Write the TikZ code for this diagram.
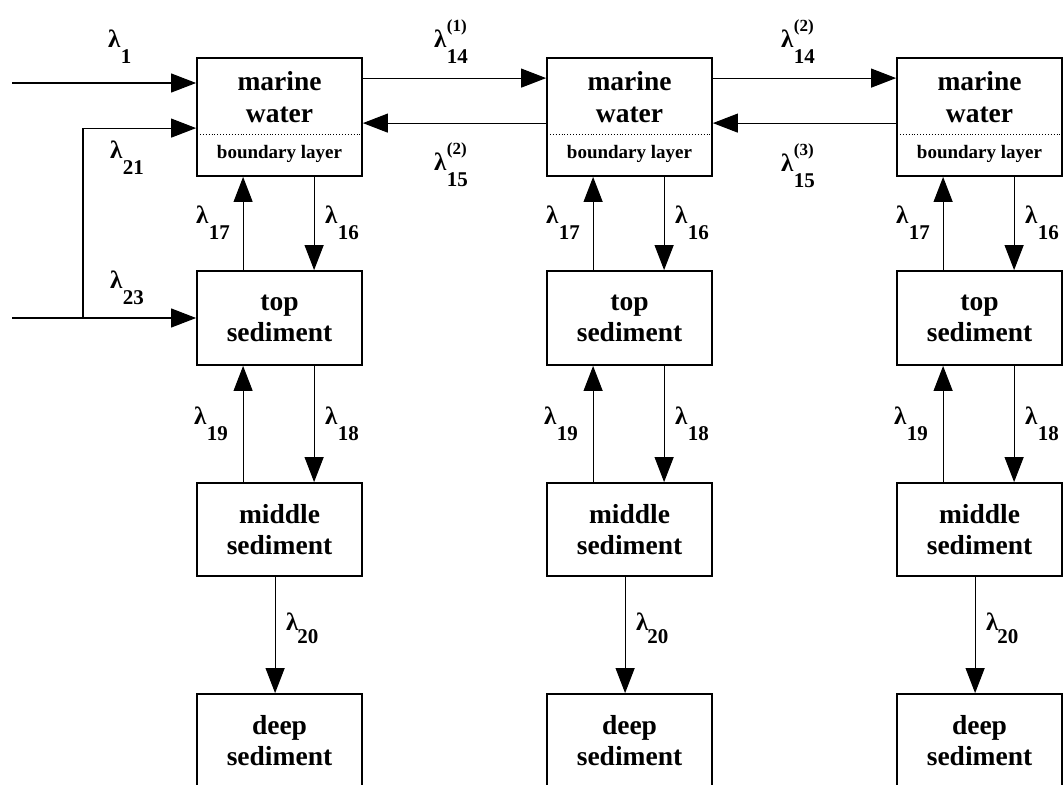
\documentclass[tikz,border=0pt]{standalone}
\usepackage{fontspec}
\setmainfont{Liberation Serif}
\usetikzlibrary{arrows.meta}
\newcommand{\lamg}{{\fontsize{25}{25}\selectfont λ}}
\newcommand{\lsub}[1]{\lamg\kern0.5pt\raisebox{-16pt}{#1}}
\newcommand{\lsubsup}[2]{\lamg\kern0.5pt\rlap{\raisebox{16pt}{\fontsize{17}{17}\selectfont(#2)}}\raisebox{-16pt}{#1}}
\newcommand{\ltight}[1]{\lamg\kern-1pt\raisebox{-13pt}{#1}}
\tikzset{
  box/.style={draw, line width=1.8pt, minimum width=165pt, minimum height=#1, inner sep=0pt, align=center, font=\bfseries\fontsize{27.5}{31}\selectfont},
  flow/.style={line width=1.1pt, -{Triangle[length=25pt,width=19pt]}},
  lab/.style={inner sep=0pt, anchor=base west, font=\bfseries\fontsize{21}{21}\selectfont},
  big/.style={inner sep=0pt, anchor=base, font=\bfseries\fontsize{27.5}{31}\selectfont},
  small/.style={inner sep=0pt, anchor=base, font=\bfseries\fontsize{19}{19}\selectfont},
  sep/.style={dotted, line width=0.9pt}
}
\begin{document}
\begin{tikzpicture}[x=1pt,y=-1pt]
\useasboundingbox (0,0) rectangle (1064,784);
\clip (0,0) rectangle (1064,784);
\foreach \c/\n in {0/1,350/2,700/3}{
  \node[box=118pt] (m\n) at (279.5+\c,117) {};
  \draw[sep] (197+\c,134) -- (362+\c,134);
  \node[big] (mw\n) at (279.5+\c,90) {marine};
  \node[big] (wa\n) at (279.5+\c,122) {water};
  \node[small] (bl\n) at (279.5+\c,158) {boundary layer};
  \node[box=94pt] (t\n) at (279.5+\c,318) {top\\sediment};
  \node[box=93pt] (md\n) at (279.5+\c,529.5) {middle\\sediment};
  \node[box=93pt] (d\n) at (279.5+\c,740.5) {deep\\sediment};
  \draw[flow] ([xshift=47pt]t\n.north west) -- ([xshift=47pt]m\n.south west);
  \draw[flow] ([xshift=118pt]m\n.south west) -- ([xshift=118pt]t\n.north west);
  \draw[flow] ([xshift=47pt]md\n.north west) -- ([xshift=47pt]t\n.south west);
  \draw[flow] ([xshift=118pt]t\n.south west) -- ([xshift=118pt]md\n.north west);
  \draw[flow] ([xshift=79pt]md\n.south west) -- ([xshift=79pt]d\n.north west);
  \node[lab] (l17\n) at (196+\c,223) {\lsub{17}};
  \node[lab] (l16\n) at (325+\c,223) {\lsub{16}};
  \node[lab] (l19\n) at (194+\c,424) {\lsub{19}};
  \node[lab] (l18\n) at (325+\c,424) {\lsub{18}};
  \node[lab] (l20\n) at (286+\c,630) {\ltight{20}};
}
% exchange between columns
\draw[flow] ([yshift=-21pt]m1.north east) -- ([yshift=-21pt]m2.north west);
\draw[flow] ([yshift=-66pt]m2.north west) -- ([yshift=-66pt]m1.north east);
\draw[flow] ([yshift=-21pt]m2.north east) -- ([yshift=-21pt]m3.north west);
\draw[flow] ([yshift=-66pt]m3.north west) -- ([yshift=-66pt]m2.north east);
% inputs
\coordinate (s1) at (12,83);
\coordinate (s23) at (12,318);
\coordinate (j) at (83,318);
\draw[flow] (s1) -- (s1 -| m1.west);
\draw[flow] (s23) -- (t1.west);
\draw[flow] (j) |- ([yshift=-71pt]m1.north west);
% labels
\node[lab] (l1) at (108,48) {\lsub{1}};
\node[lab] (l21) at (110,158) {\lsub{21}};
\node[lab] (l23) at (110,288) {\lsub{23}};
\node[lab] (l141) at (434,48) {\lsubsup{14}{1}};
\node[lab] (l152) at (434,170) {\lsubsup{15}{2}};
\node[lab] (l142) at (781,48) {\lsubsup{14}{2}};
\node[lab] (l153) at (781,171) {\lsubsup{15}{3}};
\end{tikzpicture}
\end{document}
